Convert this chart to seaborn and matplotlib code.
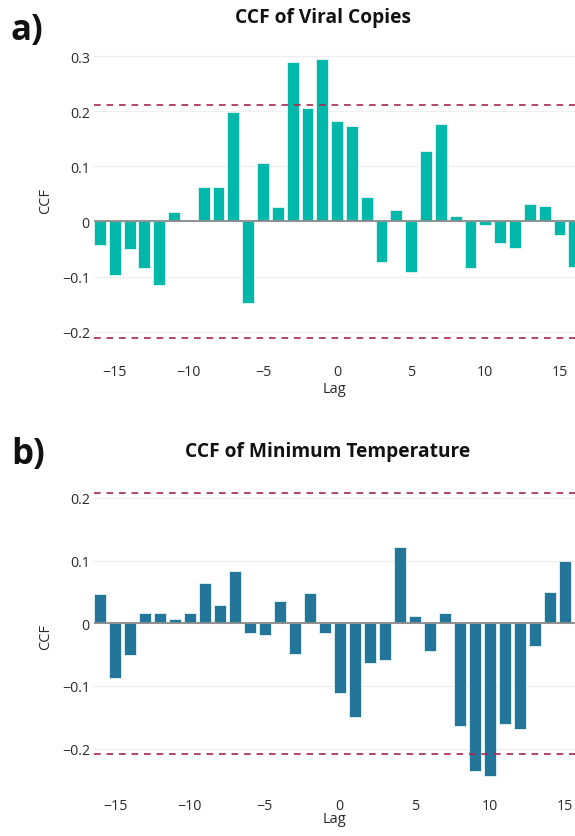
import numpy as np
import pandas as pd
import matplotlib
matplotlib.use("Agg")
import matplotlib.pyplot as plt
from matplotlib.ticker import FuncFormatter
import seaborn as sns

# Lags and CCF values
lags_viral = list(range(-16, 17))
ccf_viral = [
    -0.042, -0.098, -0.050, -0.084, -0.115, 0.018, 0.002, 0.063, 0.062, 0.198,
    -0.148, 0.106, 0.027, 0.290, 0.205, 0.295, 0.183, 0.173, 0.045, -0.074,
    0.020, -0.092, 0.128, 0.176, 0.010, -0.085, -0.007, -0.040, -0.048, 0.031,
    0.028, -0.025, -0.083,
]
conf_viral = 0.212

lags_temp = list(range(-16, 16))
ccf_temp = [
    0.046, -0.088, -0.050, 0.017, 0.016, 0.007, 0.017, 0.065, 0.029, 0.084,
    -0.016, -0.018, 0.036, -0.049, 0.048, -0.016, -0.111, -0.149, -0.063, -0.058,
    0.121, 0.011, -0.044, 0.017, -0.164, -0.236, -0.244, -0.160, -0.169, -0.037,
    0.050, 0.100,
]
conf_temp = 0.208

titles = ["CCF of Viral Copies", "CCF of Minimum Temperature"]
panel_tags = ["a)", "b)"]

sns.set_theme(style="white")
plt.rcParams["font.family"] = ["Open Sans", "DejaVu Sans"]

W, H = 575, 837
fig = plt.figure(figsize=(W / 100, H / 100), dpi=100)


def px_axes(left, top, right, bottom):
    return fig.add_axes([left / W, 1 - bottom / H, (right - left) / W, (bottom - top) / H])


def fmt(v, pos):
    if abs(v) < 1e-9:
        return "0"
    return f"{v:.1f}".replace("-", "\u2212")


def draw(ax, lags, vals, conf, color, xlim, ylim, yticks, lag_y, ccf_x):
    df = pd.DataFrame({"Lag": lags, "CCF": vals})
    ax.yaxis.grid(True, color="#eeeeee", linewidth=0.9)
    ax.set_axisbelow(True)
    sns.barplot(data=df, x="Lag", y="CCF", native_scale=True, color=color,
                saturation=1, width=0.8, edgecolor="#e6f5f3", linewidth=0.6,
                ax=ax, zorder=2)
    ax.axhline(0, color="#8a8a8a", linewidth=1.3, zorder=3)
    for c in (conf, -conf):
        ax.axhline(c, color="#a8264f", linewidth=1.2, linestyle=(0, (4, 3.5)), zorder=4)
    ax.set_xlim(*xlim)
    ax.set_ylim(*ylim)
    ax.set_yticks(yticks)
    ax.yaxis.set_major_formatter(FuncFormatter(fmt))
    ax.set_xticks([-15, -10, -5, 0, 5, 10, 15])
    ax.xaxis.set_major_formatter(FuncFormatter(lambda v, p: f"{int(v)}".replace("-", "\u2212")))
    ax.tick_params(axis="both", length=0, labelsize=10.3, colors="#2a2a2a")
    ax.tick_params(axis="y", pad=3)
    ax.tick_params(axis="x", pad=5)
    sns.despine(ax=ax, left=True, bottom=True)
    ax.set_xlabel("Lag", fontsize=10.5, color="#2a2a2a")
    ax.set_ylabel("CCF", fontsize=10.5, color="#2a2a2a")
    ax.xaxis.set_label_coords(0.5, lag_y)
    ax.yaxis.set_label_coords(ccf_x, 0.5)


ax1 = px_axes(94, 45, 575, 358)
draw(ax1, lags_viral, ccf_viral, conf_viral, "#00b8a9", (-16.4, 16.05),
     (-0.246, 0.322), [-0.2, -0.1, 0, 0.1, 0.2, 0.3], -0.078, -0.085)

ax2 = px_axes(94, 482, 575, 792)
draw(ax2, lags_temp, ccf_temp, conf_temp, "#237699", (-16.4, 15.7),
     (-0.2676, 0.227), [-0.2, -0.1, 0, 0.1, 0.2], -0.066, -0.085)

fig.text(323 / W, 1 - 18 / H, titles[0], ha="center", va="center",
         fontsize=13.8, fontweight="bold", color="#111111")
fig.text(328 / W, 1 - 452 / H, titles[1], ha="center", va="center",
         fontsize=13.8, fontweight="bold", color="#111111")
fig.text(11 / W, 1 - 31 / H, panel_tags[0], ha="left", va="center",
         fontsize=25, fontweight="bold", color="#111111")
fig.text(11 / W, 1 - 455 / H, panel_tags[1], ha="left", va="center",
         fontsize=25, fontweight="bold", color="#111111")

fig.savefig("out.png", dpi=100, facecolor="white")
